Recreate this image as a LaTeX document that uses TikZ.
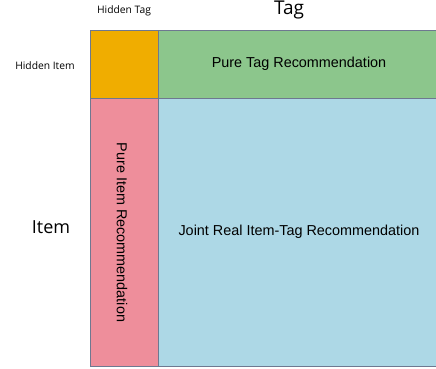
\documentclass[tikz,border=0pt]{standalone}
\usepackage{fontspec}
\setmainfont{Liberation Sans}
\newfontfamily\labelfont{Open Sans}
\usepackage{tikz}
\definecolor{hiddenorange}{HTML}{F0AD00}
\definecolor{taggreen}{HTML}{8CC68C}
\definecolor{itempink}{HTML}{EE8E9B}
\definecolor{jointblue}{HTML}{ADD8E6}
\definecolor{cellgray}{HTML}{6E7890}
\newcommand{\splitMatrixCell}[3]{
  \fill[color=#1] #2 rectangle #3;
  \draw[color=cellgray,line width=1pt] #2 rectangle #3
}

\begin{document}
\begin{tikzpicture}[x=1pt,y=-1pt]
  \useasboundingbox (0,0) rectangle (436,369);
  \clip (0,0) rectangle (436,369);

  \splitMatrixCell{hiddenorange}{(90,31)}{(158,98.7)};
  \splitMatrixCell{taggreen}{(158,31)}{(446,98.7)};
  \splitMatrixCell{itempink}{(90,98.7)}{(158,366.7)};
  \splitMatrixCell{jointblue}{(158,98.7)}{(446,366.7)};

  \node (hiddentag) at (124,10.5) {\labelfont\fontsize{10.3}{12}\selectfont Hidden Tag};
  \node (tag) at (289,10.5) {\labelfont\fontsize{19}{22}\selectfont Tag};
  \node (hiddenitem) at (45,66) {\labelfont\fontsize{10.3}{12}\selectfont Hidden Item};
  \node (item) at (51,227) {\labelfont\fontsize{18}{21}\selectfont Item};

  \node (puretag) at (299,64) {\fontsize{14.4}{17}\selectfont Pure Tag Recommendation};
  \node (pureitem) at (122,232.5) {\rotatebox{-90}{\fontsize{14.4}{17}\selectfont Pure Item Recommendation}};
  \node (joint) at (299,232) {\fontsize{14.4}{17}\selectfont Joint Real Item-Tag Recommendation};
\end{tikzpicture}
\end{document}
